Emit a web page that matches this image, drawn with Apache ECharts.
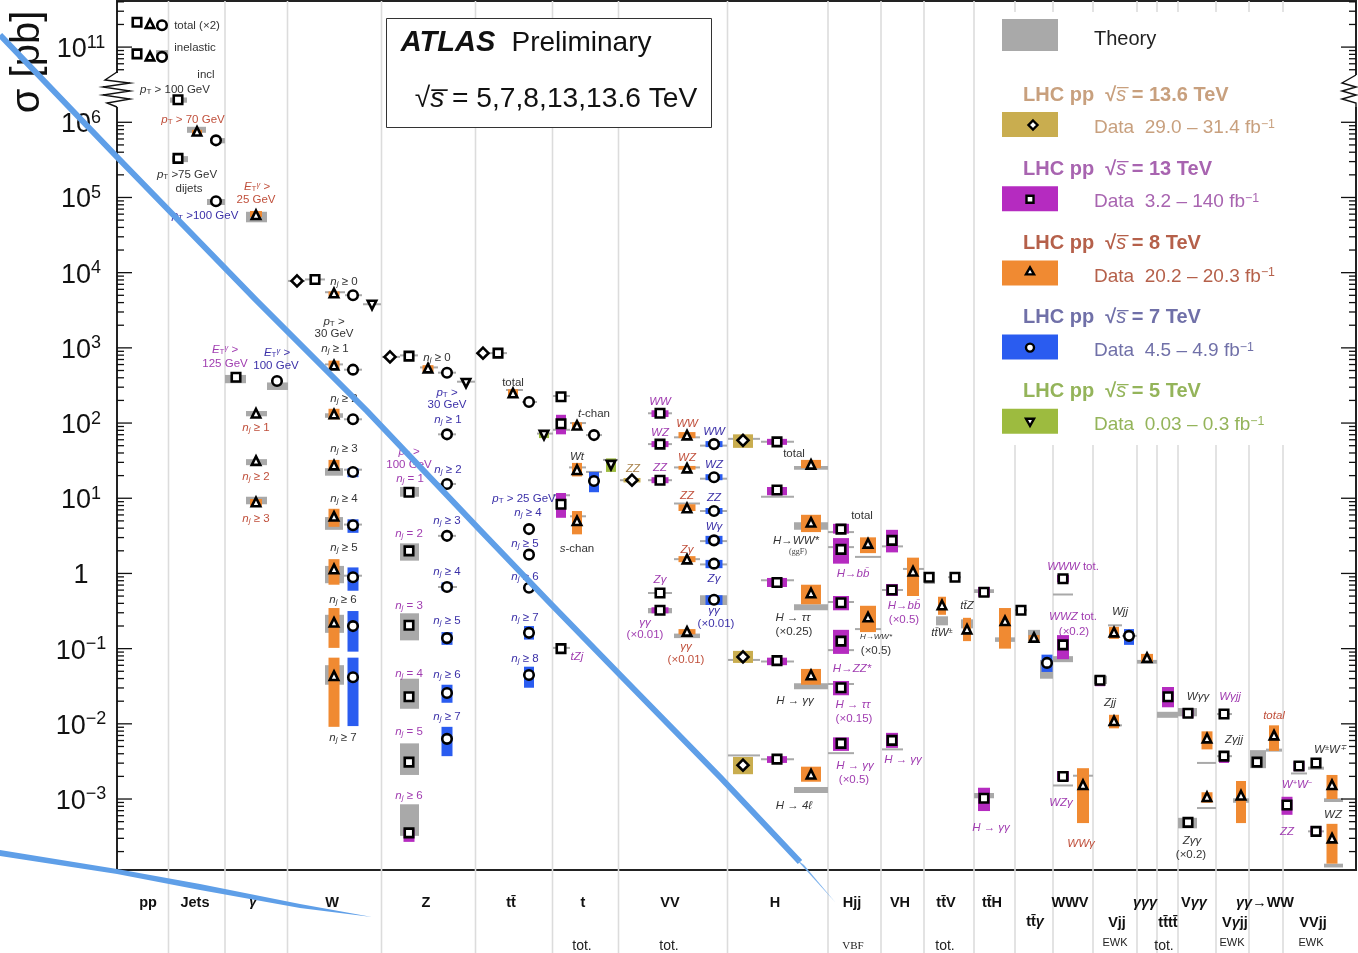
<!DOCTYPE html>
<html>
<head>
<meta charset="utf-8">
<title>ATLAS cross sections</title>
<script src="https://cdn.jsdelivr.net/npm/echarts@6/dist/echarts.min.js"></script>
<style>
  html, body { margin: 0; background: #fff; }
  #chart { width: 1358px; height: 953px; }
</style>
</head>
<body>
<div id="chart"></div>
<script>
// all sigma values are log10(sigma / pb)
// rows: [x slot, log10 sigma, band low, band high]
const pts136 = [[297,3.89],[390,2.88],[483,2.93],[632,1.24,1.21,1.27],[743,1.77,1.67,1.85],[743,-1.11,-1.19,-1.03],[743,-2.55,-2.67,-2.44]]
const pts13 = [[137,11.33],[137,10.91],[178,6.30],[178,5.52],[236,2.61],[315,3.91],
  [409,2.89],[409,1.08],[409,0.30],[409,-0.69],[409,-1.64],[409,-2.51],[409,-3.45,-3.57,-3.40],
  [498,2.93],[561,2.35],[561,1.99,1.85,2.11],[561,0.92,0.74,1.07],[561,-1.00],
  [660,2.13,2.08,2.17],[660,1.72,1.68,1.76],[660,1.24,1.20,1.28],[660,-0.26],[660,-0.49,-0.53,-0.45],
  [777,1.75,1.71,1.79],[777,1.11,1.04,1.15],[777,-0.12,-0.18,-0.06],[777,-1.16,-1.22,-1.12],[777,-2.47,-2.52,-2.43],
  [841,0.59,0.53,0.66],[841,0.32,0.13,0.47],[841,-0.39,-0.49,-0.30],[841,-0.90,-1.07,-0.75],[841,-1.52,-1.62,-1.43],[841,-2.26,-2.36,-2.18],
  [892,0.44,0.28,0.58],[892,-0.22,-0.30,-0.14],[892,-2.22,-2.32,-2.12],[929,-0.05],[955,-0.05],
  [984,-0.25,-0.31,-0.18],[984,-2.99,-3.16,-2.85],[1021,-0.49],
  [1063,-0.07,-0.12,-0.02],[1063,-0.95,-1.14,-0.82],[1063,-2.70,-2.76,-2.63],[1100,-1.42,-1.50,-1.38],
  [1168,-1.64,-1.78,-1.51],[1188,-1.86,-1.92,-1.80],[1188,-3.31],[1224,-1.87],[1224,-2.43,-2.52,-2.38],
  [1257,-2.51],[1299,-2.56,-2.63,-2.50],[1316,-2.52],[1287,-3.08,-3.21,-2.97],[1316,-3.43,-3.48,-3.36]]
const pts8 = [[150,11.31],[150,10.88],[197,5.88,5.83,5.90],[256,4.77,4.74,4.82],[256,2.13],[256,1.50],[256,0.95,0.90,0.99],
  [334,3.73,3.69,3.75],[334,2.77,2.72,2.83],[334,2.12,2.05,2.19],[334,1.44,1.39,1.51],[334,0.76,0.62,0.86],[334,0.06,-0.15,0.19],[334,-0.65,-0.99,-0.46],[334,-1.36,-2.04,-1.12],
  [428,2.73,2.68,2.77],[513,2.40,2.36,2.45],[577,1.97,1.92,2.01],[577,1.38,1.29,1.47],[577,0.70,0.52,0.83],
  [687,1.84,1.80,1.88],[687,1.40,1.38,1.43],[687,0.87,0.83,0.92],[687,0.19,0.15,0.23],[687,-0.77,-0.81,-0.74],
  [811,1.45,1.40,1.51],[811,0.68,0.55,0.78],[811,-0.26,-0.41,-0.15],[811,-1.35,-1.48,-1.27],[811,-2.67,-2.77,-2.57],
  [868,0.40,0.27,0.48],[868,-0.58,-0.78,-0.43],[913,0.03,-0.30,0.21],[942,-0.42,-0.55,-0.31],[967,-0.74,-0.90,-0.59],
  [1005,-0.63,-1.00,-0.46],[1034,-0.85,-0.90,-0.82],[1083,-2.81,-3.32,-2.59],[1114,-0.78,-0.87,-0.71],[1114,-1.96,-2.06,-1.88],
  [1147,-1.12,-1.18,-1.07],[1207,-2.19,-2.34,-2.10],[1207,-2.97,-3.05,-2.91],[1241,-2.95,-3.32,-2.76],[1274,-2.15,-2.36,-2.02],
  [1332,-2.81,-3.00,-2.68],[1332,-3.52,-3.86,-3.33]]
const pts7 = [[162,11.29],[162,10.87],[216,5.76],[216,4.95],[277,2.56],
  [353,3.70],[353,2.71],[353,2.05],[353,1.35,1.28,1.40],[353,0.64,0.54,0.72],[353,-0.05,-0.23,0.08],[353,-0.70,-1.04,-0.50],[353,-1.38,-2.03,-1.12],
  [447,2.67],[447,1.85],[447,1.19],[447,0.50],[447,-0.18,-0.23,-0.12],[447,-0.86,-0.95,-0.78],[447,-1.59,-1.72,-1.48],[447,-2.20,-2.43,-2.04],
  [529,2.28],[529,0.59],[529,0.25],[529,-0.19],[529,-0.79,-0.88,-0.70],[529,-1.35,-1.52,-1.24],
  [594,1.84],[594,1.23,1.08,1.35],[714,1.72,1.68,1.76],[714,1.28,1.24,1.32],[714,0.83,0.79,0.87],[714,0.44,0.39,0.50],[714,0.13,0.07,0.18],[714,-0.35,-0.42,-0.29],
  [1047,-1.19,-1.31,-1.08],[1129,-0.83,-0.95,-0.74]]
const pts5 = [[372,3.57],[466,2.53],[544,1.84,1.80,1.87],[611,1.44,1.35,1.53]]

// theory bands: [x from, x to, log10 sigma low, high]
const theoryBands = [[156,168,10.83,10.96],[170,187,6.26,6.33],[187,206,5.86,5.94],[210,225,5.72,5.79],[172,188,5.47,5.55],[207,225,4.90,4.98],
  [246,267,4.67,4.81],[225,246,2.53,2.64],[267,288,2.44,2.54],[246,267,2.09,2.16],[246,267,1.44,1.52],[246,267,0.92,1.02],
  [288,305,3.89,3.89],[305,325,3.91,3.91],[325,345,3.74,3.74],[345,362,3.70,3.70],[363,381,3.58,3.58],[325,343,2.78,2.78],[344,362,2.71,2.71],
  [325,343,2.07,2.13],[344,362,2.05,2.05],[325,343,1.30,1.40],[344,362,1.38,1.38],[325,343,0.58,0.75],[344,362,0.65,0.65],[325,344,-0.13,0.10],[344,362,-0.03,-0.03],[325,344,-0.79,-0.55],[325,344,-1.48,-1.22],
  [382,400,2.88,2.88],[400,418,2.90,2.90],[420,438,2.74,2.74],[438,456,2.67,2.67],[457,475,2.55,2.55],[438,456,1.85,1.85],[438,456,1.19,1.19],[400,419,1.02,1.15],[438,456,0.50,0.50],[400,419,0.17,0.40],[438,457,-0.18,-0.18],
  [400,419,-0.89,-0.53],[400,419,-1.80,-1.40],[400,419,-2.68,-2.26],[400,419,-3.49,-3.07],
  [476,491,2.93,2.93],[491,507,2.93,2.93],[506,523,2.44,2.44],[522,537,2.28,2.28],[537,553,1.86,1.86],
  [553,570,2.36,2.36],[553,570,1.91,1.91],[570,586,2.00,2.00],[586,602,1.84,1.84],[569,586,1.41,1.41],[586,602,1.35,1.35],[603,618,1.51,1.51],[553,570,1.04,1.04],[570,586,0.76,0.76],[553,570,-0.99,-0.99],
  [620,640,1.24,1.24],[648,672,2.13,2.13],[648,672,1.72,1.72],[648,672,1.24,1.24],[648,672,-0.26,-0.26],[648,672,-0.53,-0.46],
  [674,700,1.81,1.81],[674,700,1.41,1.41],[674,700,0.93,0.93],[674,700,0.19,0.19],[674,700,-0.86,-0.80],
  [700,727,1.70,1.70],[700,727,1.26,1.26],[700,727,0.83,0.83],[700,727,0.43,0.43],[700,727,0.12,0.12],[700,727,-0.42,-0.29],
  [728,760,1.79,1.79],[761,794,1.75,1.75],[794,828,1.38,1.43],[761,794,1.02,1.04],[794,828,0.58,0.68],[761,794,-0.09,-0.09],[794,828,-0.49,-0.41],
  [728,760,-1.15,-1.15],[761,794,-1.17,-1.17],[794,828,-1.54,-1.46],[728,760,-2.42,-2.42],[761,794,-2.47,-2.47],[794,828,-2.92,-2.84],
  [828,854,0.55,0.55],[828,854,0.35,0.35],[855,881,0.22,0.22],[828,854,-0.38,-0.38],[855,881,-0.74,-0.74],[828,854,-1.02,-1.02],[828,854,-1.47,-1.47],[828,854,-2.39,-2.39],
  [882,903,0.36,0.36],[903,924,0.06,0.06],[882,903,-0.22,-0.22],[882,903,-2.34,-2.34],
  [924,935,-0.14,0.02],[936,948,-0.69,-0.57],[948,961,-0.05,-0.05],[961,973,-0.73,-0.61],
  [974,994,-0.26,-0.21],[995,1015,-0.91,-0.85],[974,994,-2.99,-2.92],[1015,1027,-0.49,-0.49],[1028,1040,-0.90,-0.75],
  [1040,1053,-1.40,-1.15],[1053,1073,-0.28,-0.28],[1053,1073,-1.18,-1.10],[1053,1073,-2.82,-2.82],[1073,1093,-2.69,-2.69],
  [1108,1122,-0.69,-0.69],[1122,1137,-0.83,-0.83],[1094,1107,-1.47,-1.36],[1108,1122,-2.02,-2.02],[1137,1157,-1.20,-1.15],[1157,1178,-1.92,-1.84],
  [1178,1197,-1.90,-1.79],[1197,1216,-2.52,-2.52],[1197,1216,-3.12,-3.12],[1178,1197,-3.39,-3.25],
  [1217,1232,-1.87,-1.87],[1217,1232,-2.43,-2.43],[1233,1249,-3.05,-2.99],[1250,1266,-2.59,-2.35],[1266,1282,-2.37,-2.33],
  [1291,1307,-2.66,-2.64],[1308,1324,-2.61,-2.57],[1324,1343,-3.04,-2.99],[1308,1324,-3.43,-3.43],[1324,1343,-3.91,-3.86]]

// process groups, edges are the grey separators on the x slot axis
const groupEdges = [168.5,225,287.5,381.5,475.5,552.5,618.5,727.5,828,881,924,974,1015,1053,1093,1137,1157,1178,1216,1249,1283]
const bandWidths = [12,10,12,11,11,10,10,17,20,16,12,8,12,11,12,10,12,12,11,10,10,11]

const tickLabels = [-3,-2,-1,0,1,2,3,4,5,6,7]

const colors = { c136:'#c9ad4f', c13:'#b52bc0', c8:'#f08a32', c7:'#2a5cf0', c5:'#9dbb3f', theory:'#a9a9a9' }
const txt = { dark:'#333', red:'#c0503c', purple:'#a03cb0', blue:'#3b30a8', brown:'#a8814a' }

const NJ = '{i|n}{s|j}'
const PT = '{i|p}{t|T}'
const ET = '{i|E}{t|T}{u|γ}'

// [text, x, y]
const notesDark = [['total (×2)',197,25],['inelastic',195,47],['incl',206,74],[PT+' > 100 GeV',175,89],[PT+' >75 GeV',187,174],['dijets',189,188],
  [NJ+' ≥ 0',344,281],[PT+' >',334,321],['30 GeV',334,333],[NJ+' ≥ 1',335,348],[NJ+' ≥ 2',344,398],[NJ+' ≥ 3',344,448],[NJ+' ≥ 4',344,498],[NJ+' ≥ 5',344,547],[NJ+' ≥ 6',343,599],[NJ+' ≥ 7',343,737],
  [NJ+' ≥ 0',437,357],['total',513,382],['{i|t}-chan',594,413],['{i|Wt}',577,456],['{i|s}-chan',577,548],['total',794,453],['{i|H→WW*}',796,540],['{i|H → ττ}',793,617],['(×0.25)',794,631],['{i|H → γγ}',795,700],['{i|H → 4ℓ}',794,805],
  ['total',862,515],['(×0.5)',876,650],['{i|tt̄Z}',967,605],['{i|tt̄W}{u|±}',942,632],['{i|Wjj}',1120,611],['{i|Zjj}',1110,702],['{i|Wγγ}',1198,696],['{i|Zγjj}',1234,739],['{i|W}{u|±}{i|W}{u|∓}',1330,749],['{i|WZ}',1333,814],['{i|Zγγ}',1192,840],['(×0.2)',1191,854]]
const notesRed = [[PT+' > 70 GeV',193,119],[ET+' >',257,186],['25 GeV',256,199],[NJ+' ≥ 1',256,427],[NJ+' ≥ 2',256,476],[NJ+' ≥ 3',256,518],
  ['{i|WW}',687,423],['{i|WZ}',687,457],['{i|ZZ}',687,495],['{i|Zγ}',687,549],['{i|γγ}',686,646],['(×0.01)',686,659],['{i|WWγ}',1081,843],['{i|total}',1274,715]]
const notesPurple = [[ET+' >',225,349],['125 GeV',225,363],[PT+' >',409,451],['100 GeV',409,464],[NJ+' = 1',410,478],[NJ+' = 2',409,533],[NJ+' = 3',409,605],[NJ+' = 4',409,673],[NJ+' = 5',409,731],[NJ+' ≥ 6',409,795],
  ['{i|tZj}',577,656],['{i|WW}',660,401],['{i|WZ}',660,432],['{i|ZZ}',660,467],['{i|Zγ}',660,579],['{i|γγ}',645,622],['(×0.01)',645,634],
  ['{i|H→bb̄}',853,573],['{i|H→ZZ*}',852,668],['{i|H → ττ}',853,704],['(×0.15)',854,718],['{i|H → γγ}',855,765],['(×0.5)',854,779],['{i|H→bb̄}',904,605],['(×0.5)',904,619],['{i|H → γγ}',903,759],['{i|H → γγ}',991,827],
  ['{i|WWW} tot.',1073,566],['{i|WWZ} tot.',1073,616],['(×0.2)',1074,631],['{i|WZγ}',1061,802],['{i|Wγjj}',1230,696],['{i|W}{u|+}{i|W}{u|−}',1297,784],['{i|ZZ}',1287,831]]
const notesBlue = [[PT+' >100 GeV',205,215],[ET+' >',277,352],['100 GeV',276,365],[PT+' >',447,392],['30 GeV',447,404],[NJ+' ≥ 1',448,419],[NJ+' ≥ 2',448,469],[NJ+' ≥ 3',447,520],[NJ+' ≥ 4',447,571],[NJ+' ≥ 5',447,620],[NJ+' ≥ 6',447,674],[NJ+' ≥ 7',447,716],
  [PT+' > 25 GeV',524,498],[NJ+' ≥ 4',528,512],[NJ+' ≥ 5',525,543],[NJ+' ≥ 6',525,576],[NJ+' ≥ 7',525,617],[NJ+' ≥ 8',525,658],
  ['{i|WW}',714,431],['{i|WZ}',714,464],['{i|ZZ}',714,497],['{i|Wγ}',714,526],['{i|Zγ}',714,578],['{i|γγ}',714,610],['(×0.01)',716,623]]
const notesBrown = [['{i|ZZ}',633,468]]

// [name, x, y] under the axis
const groupLabels = [['pp',148,902],['Jets',195,902],['{g|γ}',253,901],['W',332,902],['Z',426,902],['tt̄',511,902],['t',583,902],['VV',670,902],['H',775,902],['Hjj',852,902],['VH',900,902],['tt̄V',946,902],['tt̄H',992,902],['tt̄{g|γ}',1035,921],['WWV',1070,902],['Vjj',1117,922],['{g|γγγ}',1145,902],['tt̄tt̄',1168,922],['V{g|γγ}',1194,902],['{g|γγ}→WW',1265,902],['V{g|γ}jj',1235,922],['VVjj',1313,922]]
const groupSubs = [['tot.',582,945],['tot.',669,945],['tot.',945,945],['tot.',1164,945],['EWK',1115,942],['EWK',1232,942],['EWK',1311,942]]

// [centre of mass label, luminosity label]
const legendTitles = ['13.6 TeV','13 TeV','8 TeV','7 TeV','5 TeV']
const legendLumi = ['29.0 – 31.4','3.2 – 140','20.2 – 20.3','4.5 – 4.9','0.03 – 0.3']
const legendText = ['#c8a07e','#a864b0','#b5604a','#7070a8','#94b45a']

const font = '"Liberation Sans", Arial, sans-serif'

// the axis is broken between 10^6 and 10^10, four decades are cut out
function pos(lg) { return lg > 6.5 ? lg - 4 : lg }
function widthAt(x) {
  let i = 0
  while (i < groupEdges.length && x > groupEdges[i]) i++
  return bandWidths[i]
}

function tickPositions() {
  let out = []
  for (let d = -4; d <= 5; d++) for (let m = 1; m <= 9; m++) {
    let p = d + Math.log10(m)
    if (p > -3.94) out.push([p, m === 1 ? 1 : 0])
  }
  out.push([6, 1])
  for (let m = 5; m <= 9; m++) out.push([6 + Math.log10(m), 0])
  out.push([7, 1])
  for (let m = 2; m <= 4; m++) out.push([7 + Math.log10(m), 0])
  return out
}

function bandSeries(rows, color) {
  return {
    type: 'custom', z: 3, silent: true, clip: false,
    data: rows.filter(r => r.length > 2).map(r => [r[0], pos(r[2]), pos(r[3])]),
    renderItem(params, api) {
      let x = api.value(0), w = widthAt(x)
      let a = api.coord([x, api.value(1)]), b = api.coord([x, api.value(2)])
      return { type: 'rect', shape: { x: a[0] - w / 2, y: b[1], width: w, height: a[1] - b[1] }, style: { fill: color } }
    }
  }
}

function markSeries(rows, symbol, size, rotate) {
  return {
    type: 'scatter', z: 5, silent: true, symbol: symbol, symbolSize: size, symbolRotate: rotate || 0,
    data: rows.map(r => [r[0], pos(r[1])]),
    itemStyle: { color: '#fff', borderColor: '#000', borderWidth: 2.6, opacity: 1 }
  }
}

const series = [
  { // grey separators run on below the axis
    type: 'custom', z: 1, silent: true, clip: false,
    data: groupEdges.map(x => [x]),
    renderItem(params, api) {
      let top = api.coord([api.value(0), 7.613])
      return { type: 'line', shape: { x1: top[0], y1: top[1], x2: top[0], y2: api.getHeight() }, style: { stroke: '#dcdcdc', lineWidth: 1.6 } }
    }
  },
  {
    type: 'custom', z: 2, silent: true, clip: false,
    data: theoryBands.map(r => [r[0], r[1], pos(r[2]), pos(r[3])]),
    renderItem(params, api) {
      let a = api.coord([api.value(0), api.value(2)]), b = api.coord([api.value(1), api.value(3)])
      let h = a[1] - b[1]
      if (h < 2) return { type: 'rect', shape: { x: a[0], y: a[1] - 1, width: b[0] - a[0], height: 2 }, style: { fill: colors.theory } }
      return { type: 'rect', shape: { x: a[0], y: b[1], width: b[0] - a[0], height: h }, style: { fill: colors.theory } }
    }
  },
  bandSeries(pts136, colors.c136), bandSeries(pts13, colors.c13), bandSeries(pts8, colors.c8), bandSeries(pts7, colors.c7), bandSeries(pts5, colors.c5),
  markSeries(pts136, 'diamond', 11),
  markSeries(pts13, 'rect', 8.5),
  markSeries(pts8, 'triangle', 8.5),
  markSeries(pts7, 'circle', 9.5),
  markSeries(pts5, 'triangle', 8.5, 180),
  { // log ticks on both sides
    type: 'custom', z: 6, silent: true, clip: false,
    data: tickPositions(),
    renderItem(params, api) {
      let l = api.coord([117, api.value(0)]), r = api.coord([1356, api.value(0)])
      let len = api.value(1) ? 15 : 7
      let st = { stroke: '#111', lineWidth: 1.3 }
      return { type: 'group', children: [
        { type: 'line', shape: { x1: l[0], y1: l[1], x2: l[0] + len, y2: l[1] }, style: st },
        { type: 'line', shape: { x1: r[0], y1: r[1], x2: r[0] - len, y2: r[1] }, style: st }
      ] }
    }
  }
]

function rich(size) {
  return {
    i: { fontStyle: 'italic', fontSize: size, fontFamily: font },
    s: { fontStyle: 'italic', fontSize: size * 0.7, fontFamily: font, verticalAlign: 'bottom' },
    t: { fontSize: size * 0.7, fontFamily: font, verticalAlign: 'bottom' },
    u: { fontStyle: 'italic', fontSize: size * 0.65, fontFamily: font, verticalAlign: 'top' },
    v: { fontSize: size * 0.65, fontFamily: font, verticalAlign: 'top' },
    g: { fontStyle: 'italic', fontSize: size, fontWeight: 'bold', fontFamily: font },
    b: { fontWeight: 'bold', fontSize: size, fontFamily: font },
    bi: { fontWeight: 'bold', fontStyle: 'italic', fontSize: size, fontFamily: font }
  }
}

function label(text, x, y, fill, size, extra) {
  return {
    type: 'text', z: 21, silent: true,
    style: Object.assign({ text: text, x: x, y: y + 1, fill: fill, fontSize: size, fontFamily: font, align: 'center', verticalAlign: 'middle', rich: rich(size) }, extra || {})
  }
}

function box(x, y, w, h, fill, stroke) {
  return { type: 'rect', z: 20, silent: true, shape: { x: x, y: y, width: w, height: h }, style: { fill: fill, stroke: stroke || null, lineWidth: 1 } }
}

const mark = { fill: '#fff', stroke: '#000', lineWidth: 2.4 }
function legendMark(i, x, y) {
  if (i === 0) return { type: 'polygon', z: 22, silent: true, shape: { points: [[x, y - 4.5], [x + 4.5, y], [x, y + 4.5], [x - 4.5, y]] }, style: mark }
  if (i === 1) return { type: 'rect', z: 22, silent: true, shape: { x: x - 3.5, y: y - 3.5, width: 7, height: 7 }, style: mark }
  if (i === 2) return { type: 'polygon', z: 22, silent: true, shape: { points: [[x, y - 4], [x + 4, y + 3], [x - 4, y + 3]] }, style: mark }
  if (i === 3) return { type: 'circle', z: 22, silent: true, shape: { cx: x, cy: y, r: 4 }, style: mark }
  return { type: 'polygon', z: 22, silent: true, shape: { points: [[x, y + 4], [x + 4, y - 3], [x - 4, y - 3]] }, style: mark }
}

let elements = []

// notes on the plot
const noteSets = [[notesDark, txt.dark], [notesRed, txt.red], [notesPurple, txt.purple], [notesBlue, txt.blue], [notesBrown, txt.brown]]
noteSets.forEach(([rows, fill]) => rows.forEach(r => elements.push(label(r[0], r[1], r[2], fill, 11.5))))
elements.push(label('(ggF)', 798, 551, '#444', 8, { fontFamily: '"Liberation Serif", serif' }))
elements.push(label('{i|H→WW*}', 876, 636, txt.dark, 8))

// process names below the axis
groupLabels.forEach(r => elements.push(label(r[0], r[1], r[2], '#111', 14.5, { fontWeight: 'bold' })))
groupSubs.forEach(r => elements.push(label(r[0], r[1], r[2], '#222', r[0] === 'EWK' ? 11 : 14, {})))
elements.push(label('VBF', 853, 945, '#222', 11, { fontFamily: '"Liberation Serif", serif' }))

// y axis name
elements.push({ type: 'text', z: 21, silent: true, x: 28, y: 62, rotation: Math.PI / 2,
  style: { text: 'σ [pb]', fill: '#111', fontSize: 40, fontFamily: font, align: 'center', verticalAlign: 'middle' } })

// ATLAS box
elements.push(box(386.5, 18.5, 325, 109, '#fff', '#333'))
elements.push(label('{bi|ATLAS}', 448, 42, '#111', 29))
elements.push(label('Preliminary', 581.5, 42, '#111', 28))
elements.push(label('√{i|s̅} = 5,7,8,13,13.6 TeV', 556, 98, '#111', 28.2))

// legend panel
elements.push(box(995, 12, 295, 433, '#fff'))
elements.push(box(1002, 19, 56, 32, colors.theory))
elements.push(label('Theory', 1094, 38, '#222', 20, { align: 'left' }))
const legendColors = [colors.c136, colors.c13, colors.c8, colors.c7, colors.c5]
legendTitles.forEach((t, i) => {
  let y0 = 94 + i * 74.2
  elements.push(label('{b|LHC pp}  √{i|s̅} = {b|' + t + '}', 1023, y0, legendText[i], 20, { align: 'left', fontWeight: 'bold' }))
  elements.push(box(1002, y0 + 18, 56, 25, legendColors[i]))
  elements.push(legendMark(i, i === 0 ? 1033 : 1030, y0 + 31 - (i === 2 ? 2 : 0)))
  elements.push(label('Data  ' + legendLumi[i] + ' fb{v|−1}', 1094, y0 + 33, legendText[i], 19, { align: 'left' }))
})

// axis break zigzags
elements.push(box(114, 73, 6, 34, '#fff'))
elements.push(box(1353, 75, 5, 32, '#fff'))
const zigStyle = { stroke: '#111', lineWidth: 1.4, fill: null }
elements.push({ type: 'polyline', z: 22, silent: true, style: zigStyle,
  shape: { points: [[117, 72], [105, 80], [130, 83], [103, 87], [130, 91], [103, 95], [130, 99], [107, 103], [117, 107]] } })
elements.push({ type: 'polyline', z: 22, silent: true, style: zigStyle,
  shape: { points: [[1356, 75], [1342, 83], [1356, 87], [1342, 91], [1356, 95], [1342, 99], [1356, 103], [1356, 107]] } })

// the two blue pen strokes scribbled over the picture
elements.push({ type: 'polyline', z: 30, silent: true,
  shape: { points: [[0, 35], [117, 157], [256, 300], [367, 411], [480, 530], [550, 603], [625, 680], [720, 777], [800, 862]] },
  style: { stroke: '#5f9fe8', lineWidth: 6, fill: null } })
elements.push({ type: 'polygon', z: 30, silent: true,
  shape: { points: [[796, 859], [804, 865], [835, 902]] }, style: { fill: '#7ab0ec' } })
elements.push({ type: 'polygon', z: 30, silent: true,
  shape: { points: [[0, 850], [117, 869], [200, 884], [300, 904], [372, 917], [300, 908], [200, 890], [117, 874], [0, 856]] },
  style: { fill: '#5f9fe8' } })

const myChart = echarts.init(document.getElementById('chart'))
myChart.setOption({
  animation: false,
  backgroundColor: '#fff',
  grid: { left: 117, right: 2, top: 1, bottom: 83, show: true, borderColor: '#222', borderWidth: 2 },
  xAxis: { type: 'value', min: 117, max: 1356, show: false },
  yAxis: {
    type: 'value', min: -3.944, max: 7.613,
    axisLine: { show: false }, axisTick: { show: false }, splitLine: { show: false },
    axisLabel: {
      customValues: tickLabels, margin: 36, align: 'center', padding: [5, 0, 0, 0],
      formatter(v) {
        if (v === 0) return '{b|1}'
        let e = v === 7 ? 11 : v
        return '{b|10}{e|' + String(e).replace('-', '−') + '}'
      },
      rich: {
        b: { fontSize: 27, fontFamily: font, color: '#111' },
        e: { fontSize: 18, fontFamily: font, color: '#111', verticalAlign: 'top', lineHeight: 32 }
      }
    }
  },
  series: series,
  graphic: { elements: elements }
})
</script>
</body>
</html>
